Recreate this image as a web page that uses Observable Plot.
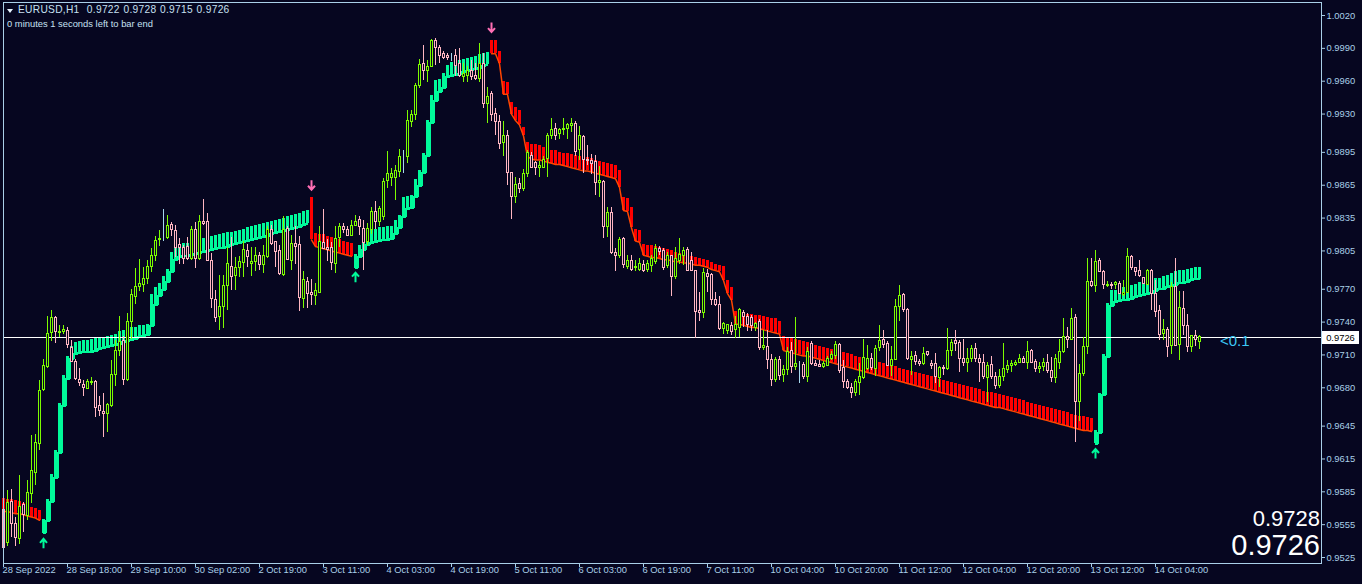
<!DOCTYPE html>
<html><head><meta charset="utf-8">
<script src="https://cdn.jsdelivr.net/npm/d3@7"></script>
<script src="https://cdn.jsdelivr.net/npm/@observablehq/plot@0.6"></script>
<style>
html,body{margin:0;padding:0;background:#060620;}
#wrap{position:relative;width:1362px;height:584px;overflow:hidden;font-family:"Liberation Sans",Arial,sans-serif;}
#wrap svg{position:absolute;left:0;top:0;}
.ov{position:absolute;white-space:pre;line-height:1;}
</style></head><body><div id="wrap"></div>
<script>
// ---- data (EURUSD H1) ----
const symbolName = "EURUSD,H1";
const headerOHLC = ["0.9722", "0.9728", "0.9715", "0.9726"];
const timerText = "0 minutes 1 seconds left to bar end";
const bidText = "0.9728";
const askText = "0.9726";
const spreadText = "<0.1";

const openP = [
0.9568,0.9538,0.9576,0.9556,0.9542,0.9573,0.9563,0.9583,0.9602,0.9629,
0.9678,0.9699,0.9730,0.9744,0.9730,0.9731,0.9732,0.9716,0.9704,0.9687,
0.9683,0.9679,0.9684,0.9685,0.9663,0.9658,0.9656,0.9663,0.9692,0.9714,
0.9723,0.9687,0.9740,0.9763,0.9772,0.9774,0.9779,0.9790,0.9800,0.9815,
0.9817,0.9817,0.9829,0.9823,0.9810,0.9808,0.9809,0.9798,0.9824,0.9798,
0.9831,0.9831,0.9796,0.9760,0.9745,0.9754,0.9773,0.9790,0.9782,0.9789,
0.9794,0.9805,0.9793,0.9795,0.9800,0.9792,0.9799,0.9824,0.9813,0.9805,
0.9783,0.9825,0.9796,0.9811,0.9810,0.9761,0.9777,0.9767,0.9764,0.9767,
0.9812,0.9808,0.9808,0.9793,0.9817,0.9827,0.9824,0.9819,0.9828,0.9833,
0.9825,0.9813,0.9824,0.9841,0.9831,0.9836,0.9869,0.9872,0.9872,0.9877,
0.9891,0.9891,0.9923,0.9929,0.9956,0.9976,0.9969,0.9973,0.9997,0.9990,
0.9985,0.9983,0.9982,0.9983,0.9976,0.9964,0.9965,0.9969,0.9965,0.9962,
0.9976,0.9939,0.9948,0.9930,0.9923,0.9904,0.9910,0.9876,0.9854,0.9866,
0.9862,0.9875,0.9892,0.9885,0.9881,0.9881,0.9889,0.9910,0.9916,0.9912,
0.9915,0.9916,0.9919,0.9921,0.9897,0.9909,0.9888,0.9887,0.9886,0.9867,
0.9868,0.9827,0.9840,0.9803,0.9800,0.9816,0.9790,0.9796,0.9789,0.9788,
0.9792,0.9788,0.9791,0.9795,0.9807,0.9805,0.9791,0.9800,0.9781,0.9796,
0.9800,0.9806,0.9796,0.9787,0.9750,0.9748,0.9784,0.9783,0.9760,0.9756,
0.9734,0.9732,0.9736,0.9733,0.9735,0.9748,0.9745,0.9744,0.9735,0.9740,
0.9716,0.9717,0.9705,0.9687,0.9705,0.9692,0.9696,0.9714,0.9699,0.9701,
0.9701,0.9690,0.9720,0.9702,0.9701,0.9699,0.9700,0.9706,0.9709,0.9719,
0.9698,0.9685,0.9680,0.9675,0.9684,0.9689,0.9697,0.9706,0.9697,0.9716,
0.9724,0.9720,0.9700,0.9705,0.9754,0.9765,0.9751,0.9705,0.9709,0.9704,
0.9702,0.9713,0.9702,0.9702,0.9689,0.9698,0.9697,0.9714,0.9723,0.9721,
0.9706,0.9703,0.9706,0.9715,0.9706,0.9703,0.9689,0.9701,0.9690,0.9682,
0.9690,0.9696,0.9700,0.9701,0.9703,0.9706,0.9703,0.9714,0.9704,0.9697,
0.9699,0.9703,0.9695,0.9689,0.9703,0.9713,0.9726,0.9724,0.9744,0.9667,
0.9693,0.9717,0.9777,0.9773,0.9796,0.9786,0.9773,0.9774,0.9774,0.9775,
0.9765,0.9767,0.9799,0.9789,0.9787,0.9780,0.9774,0.9787,0.9766,0.9750,
0.9729,0.9733,0.9718,0.9772,0.9719,0.9752,0.9736,0.9717,0.9727,0.9722];

const highP = [
0.9572,0.9586,0.9587,0.9562,0.9600,0.9575,0.9595,0.9636,0.9637,0.9687,
0.9706,0.9745,0.9751,0.9745,0.9737,0.9737,0.9735,0.9723,0.9706,0.9698,
0.9687,0.9688,0.9689,0.9687,0.9672,0.9675,0.9666,0.9705,0.9723,0.9745,
0.9727,0.9748,0.9770,0.9789,0.9797,0.9790,0.9796,0.9807,0.9818,0.9824,
0.9843,0.9837,0.9831,0.9828,0.9816,0.9810,0.9817,0.9827,0.9831,0.9837,
0.9852,0.9839,0.9803,0.9769,0.9783,0.9783,0.9808,0.9817,0.9799,0.9800,
0.9814,0.9811,0.9808,0.9808,0.9804,0.9810,0.9827,0.9828,0.9814,0.9810,
0.9836,0.9827,0.9819,0.9827,0.9818,0.9786,0.9781,0.9779,0.9775,0.9827,
0.9843,0.9815,0.9813,0.9827,0.9830,0.9830,0.9827,0.9833,0.9837,0.9836,
0.9833,0.9830,0.9845,0.9850,0.9846,0.9871,0.9896,0.9880,0.9883,0.9898,
0.9897,0.9933,0.9933,0.9958,0.9980,0.9993,0.9979,0.9998,0.9999,0.9993,
0.9987,0.9985,0.9985,0.9989,0.9990,0.9976,0.9973,0.9979,0.9976,0.9994,
0.9985,0.9954,0.9951,0.9935,0.9929,0.9923,0.9915,0.9877,0.9872,0.9871,
0.9879,0.9897,0.9895,0.9887,0.9887,0.9891,0.9912,0.9926,0.9921,0.9917,
0.9926,0.9921,0.9926,0.9923,0.9919,0.9910,0.9901,0.9893,0.9892,0.9882,
0.9869,0.9845,0.9845,0.9807,0.9817,0.9817,0.9801,0.9801,0.9796,0.9798,
0.9796,0.9796,0.9801,0.9811,0.9809,0.9807,0.9804,0.9801,0.9808,0.9816,
0.9808,0.9808,0.9804,0.9787,0.9767,0.9789,0.9788,0.9784,0.9767,0.9763,
0.9740,0.9738,0.9740,0.9745,0.9752,0.9751,0.9748,0.9746,0.9740,0.9742,
0.9732,0.9732,0.9710,0.9708,0.9709,0.9700,0.9717,0.9721,0.9744,0.9704,
0.9703,0.9717,0.9722,0.9705,0.9705,0.9704,0.9709,0.9713,0.9722,0.9720,
0.9705,0.9688,0.9684,0.9688,0.9702,0.9724,0.9719,0.9711,0.9719,0.9737,
0.9732,0.9722,0.9718,0.9761,0.9773,0.9766,0.9752,0.9713,0.9713,0.9706,
0.9717,0.9713,0.9705,0.9711,0.9699,0.9700,0.9734,0.9724,0.9732,0.9723,
0.9724,0.9716,0.9719,0.9720,0.9710,0.9710,0.9703,0.9709,0.9694,0.9697,
0.9720,0.9705,0.9705,0.9705,0.9710,0.9709,0.9722,0.9715,0.9706,0.9703,
0.9707,0.9710,0.9708,0.9710,0.9724,0.9743,0.9735,0.9752,0.9747,0.9701,
0.9726,0.9798,0.9798,0.9805,0.9798,0.9787,0.9777,0.9776,0.9777,0.9777,
0.9778,0.9807,0.9801,0.9790,0.9796,0.9781,0.9788,0.9788,0.9778,0.9755,
0.9742,0.9735,0.9776,0.9798,0.9768,0.9768,0.9747,0.9727,0.9732,0.9728];

const lowP = [
0.9530,0.9535,0.9543,0.9535,0.9537,0.9548,0.9559,0.9574,0.9591,0.9623,
0.9677,0.9698,0.9722,0.9720,0.9726,0.9729,0.9716,0.9703,0.9687,0.9681,
0.9672,0.9678,0.9682,0.9653,0.9654,0.9635,0.9639,0.9662,0.9681,0.9709,
0.9682,0.9686,0.9724,0.9756,0.9768,0.9767,0.9774,0.9785,0.9795,0.9809,
0.9814,0.9815,0.9818,0.9799,0.9793,0.9793,0.9796,0.9796,0.9789,0.9796,
0.9828,0.9795,0.9752,0.9740,0.9732,0.9734,0.9751,0.9769,0.9769,0.9781,
0.9781,0.9790,0.9782,0.9786,0.9787,0.9784,0.9798,0.9810,0.9790,0.9783,
0.9782,0.9796,0.9787,0.9793,0.9750,0.9752,0.9752,0.9755,0.9755,0.9767,
0.9807,0.9795,0.9787,0.9784,0.9808,0.9821,0.9818,0.9818,0.9827,0.9819,
0.9787,0.9810,0.9820,0.9825,0.9827,0.9833,0.9862,0.9864,0.9851,0.9872,
0.9876,0.9885,0.9918,0.9924,0.9953,0.9961,0.9959,0.9973,0.9974,0.9976,
0.9980,0.9979,0.9978,0.9964,0.9963,0.9959,0.9959,0.9961,0.9961,0.9959,
0.9935,0.9921,0.9923,0.9910,0.9898,0.9891,0.9865,0.9834,0.9848,0.9857,
0.9859,0.9872,0.9880,0.9874,0.9872,0.9880,0.9872,0.9907,0.9906,0.9907,
0.9910,0.9907,0.9913,0.9891,0.9888,0.9876,0.9883,0.9875,0.9856,0.9854,
0.9816,0.9817,0.9802,0.9786,0.9798,0.9789,0.9788,0.9786,0.9786,0.9786,
0.9785,0.9785,0.9785,0.9793,0.9801,0.9787,0.9789,0.9763,0.9779,0.9793,
0.9792,0.9786,0.9786,0.9725,0.9741,0.9743,0.9767,0.9755,0.9754,0.9732,
0.9729,0.9729,0.9728,0.9725,0.9726,0.9735,0.9731,0.9731,0.9731,0.9714,
0.9714,0.9697,0.9681,0.9685,0.9687,0.9685,0.9691,0.9693,0.9696,0.9684,
0.9688,0.9685,0.9700,0.9699,0.9699,0.9698,0.9699,0.9705,0.9706,0.9693,
0.9679,0.9678,0.9670,0.9672,0.9673,0.9688,0.9696,0.9696,0.9690,0.9713,
0.9716,0.9699,0.9690,0.9705,0.9741,0.9749,0.9705,0.9691,0.9700,0.9699,
0.9700,0.9709,0.9697,0.9684,0.9680,0.9691,0.9696,0.9709,0.9713,0.9694,
0.9699,0.9694,0.9703,0.9703,0.9685,0.9688,0.9667,0.9688,0.9678,0.9679,
0.9686,0.9693,0.9694,0.9699,0.9702,0.9702,0.9697,0.9702,0.9694,0.9693,
0.9695,0.9693,0.9685,0.9684,0.9697,0.9711,0.9716,0.9723,0.9630,0.9649,
0.9690,0.9710,0.9772,0.9767,0.9785,0.9770,0.9772,0.9770,0.9770,0.9765,
0.9763,0.9766,0.9787,0.9782,0.9781,0.9774,0.9773,0.9751,0.9744,0.9723,
0.9723,0.9708,0.9710,0.9718,0.9705,0.9728,0.9712,0.9712,0.9718,0.9715];

const closeP = [
0.9534,0.9575,0.9556,0.9543,0.9571,0.9564,0.9584,0.9604,0.9630,0.9677,
0.9700,0.9729,0.9744,0.9731,0.9731,0.9733,0.9719,0.9704,0.9688,0.9684,
0.9680,0.9685,0.9685,0.9662,0.9659,0.9656,0.9664,0.9692,0.9714,0.9722,
0.9687,0.9740,0.9765,0.9772,0.9775,0.9779,0.9790,0.9800,0.9814,0.9816,
0.9817,0.9828,0.9824,0.9808,0.9808,0.9798,0.9798,0.9824,0.9798,0.9831,
0.9830,0.9796,0.9761,0.9744,0.9754,0.9773,0.9793,0.9781,0.9789,0.9795,
0.9806,0.9799,0.9795,0.9800,0.9792,0.9800,0.9824,0.9811,0.9804,0.9784,
0.9824,0.9797,0.9811,0.9809,0.9762,0.9778,0.9766,0.9765,0.9768,0.9813,
0.9807,0.9806,0.9794,0.9816,0.9827,0.9824,0.9819,0.9828,0.9831,0.9827,
0.9812,0.9825,0.9841,0.9831,0.9843,0.9868,0.9875,0.9875,0.9878,0.9891,
0.9891,0.9924,0.9929,0.9956,0.9975,0.9969,0.9973,0.9997,0.9990,0.9983,
0.9981,0.9981,0.9982,0.9974,0.9965,0.9967,0.9969,0.9964,0.9962,0.9976,
0.9939,0.9946,0.9929,0.9923,0.9903,0.9910,0.9876,0.9854,0.9865,0.9862,
0.9875,0.9894,0.9881,0.9881,0.9883,0.9888,0.9910,0.9915,0.9910,0.9915,
0.9916,0.9920,0.9921,0.9895,0.9910,0.9888,0.9887,0.9884,0.9867,0.9869,
0.9827,0.9840,0.9803,0.9800,0.9815,0.9792,0.9796,0.9788,0.9790,0.9793,
0.9787,0.9793,0.9798,0.9807,0.9804,0.9789,0.9800,0.9781,0.9798,0.9801,
0.9805,0.9787,0.9787,0.9749,0.9748,0.9785,0.9781,0.9760,0.9756,0.9734,
0.9738,0.9737,0.9731,0.9737,0.9751,0.9745,0.9737,0.9736,0.9738,0.9716,
0.9718,0.9705,0.9687,0.9705,0.9691,0.9696,0.9713,0.9699,0.9702,0.9701,
0.9690,0.9713,0.9702,0.9700,0.9699,0.9702,0.9706,0.9710,0.9719,0.9695,
0.9685,0.9680,0.9675,0.9685,0.9690,0.9707,0.9706,0.9698,0.9715,0.9723,
0.9719,0.9700,0.9705,0.9754,0.9764,0.9751,0.9706,0.9708,0.9704,0.9702,
0.9711,0.9710,0.9700,0.9690,0.9698,0.9697,0.9714,0.9721,0.9720,0.9706,
0.9703,0.9706,0.9715,0.9706,0.9703,0.9690,0.9700,0.9690,0.9682,0.9690,
0.9697,0.9700,0.9702,0.9703,0.9706,0.9703,0.9713,0.9703,0.9697,0.9699,
0.9703,0.9695,0.9689,0.9706,0.9713,0.9726,0.9724,0.9743,0.9667,0.9693,
0.9717,0.9777,0.9773,0.9795,0.9786,0.9774,0.9774,0.9773,0.9776,0.9766,
0.9767,0.9799,0.9789,0.9786,0.9782,0.9775,0.9787,0.9766,0.9749,0.9728,
0.9733,0.9717,0.9772,0.9718,0.9753,0.9736,0.9717,0.9727,0.9724,0.9726];

// trailing-stop band (lower / upper edge per bar)
const bandLo = [
0.9567,0.9567,0.9566,0.9565,0.9565,0.9564,0.9563,0.9562,0.9561,0.9559,
0.9547,0.9558,0.9576,0.9598,0.9620,0.9663,0.9688,0.9706,0.9711,0.9712,
0.9713,0.9713,0.9713,0.9714,0.9715,0.9716,0.9717,0.9718,0.9719,0.9720,
0.9722,0.9723,0.9724,0.9725,0.9726,0.9727,0.9728,0.9736,0.9756,0.9764,
0.9769,0.9777,0.9786,0.9797,0.9799,0.9800,0.9800,0.9801,0.9802,0.9803,
0.9804,0.9805,0.9806,0.9807,0.9808,0.9808,0.9809,0.9810,0.9811,0.9812,
0.9813,0.9814,0.9815,0.9816,0.9817,0.9818,0.9819,0.9820,0.9821,0.9822,
0.9823,0.9824,0.9825,0.9826,0.9827,0.9829,0.9830,0.9815,0.9809,0.9808,
0.9807,0.9806,0.9805,0.9804,0.9803,0.9802,0.9801,0.9800,0.9789,0.9799,
0.9806,0.9810,0.9812,0.9813,0.9814,0.9815,0.9815,0.9816,0.9820,0.9826,
0.9836,0.9843,0.9844,0.9854,0.9864,0.9876,0.9892,0.9922,0.9942,0.9950,
0.9954,0.9964,0.9965,0.9966,0.9967,0.9968,0.9969,0.9970,0.9971,0.9972,
0.9974,0.9975,0.9985,0.9985,0.9976,0.9948,0.9948,0.9930,0.9924,0.9920,
0.9910,0.9891,0.9889,0.9888,0.9888,0.9887,0.9886,0.9885,0.9884,0.9884,
0.9883,0.9882,0.9881,0.9880,0.9879,0.9878,0.9878,0.9877,0.9876,0.9875,
0.9874,0.9873,0.9872,0.9871,0.9863,0.9842,0.9841,0.9826,0.9814,0.9813,
0.9801,0.9800,0.9799,0.9799,0.9798,0.9797,0.9797,0.9796,0.9795,0.9795,
0.9794,0.9794,0.9793,0.9792,0.9792,0.9791,0.9790,0.9788,0.9787,0.9786,
0.9778,0.9766,0.9760,0.9738,0.9738,0.9737,0.9736,0.9735,0.9735,0.9734,
0.9733,0.9732,0.9731,0.9730,0.9729,0.9714,0.9713,0.9712,0.9711,0.9710,
0.9709,0.9709,0.9708,0.9707,0.9706,0.9705,0.9704,0.9703,0.9702,0.9701,
0.9700,0.9699,0.9698,0.9697,0.9696,0.9695,0.9694,0.9693,0.9692,0.9691,
0.9690,0.9689,0.9688,0.9687,0.9686,0.9685,0.9684,0.9683,0.9682,0.9681,
0.9680,0.9679,0.9678,0.9677,0.9676,0.9675,0.9674,0.9673,0.9672,0.9671,
0.9670,0.9669,0.9668,0.9667,0.9666,0.9665,0.9664,0.9663,0.9662,0.9662,
0.9661,0.9660,0.9659,0.9658,0.9657,0.9656,0.9655,0.9654,0.9653,0.9652,
0.9651,0.9650,0.9649,0.9648,0.9647,0.9646,0.9645,0.9644,0.9643,0.9642,
0.9641,0.9641,0.9640,0.9629,0.9639,0.9673,0.9708,0.9755,0.9758,0.9759,
0.9760,0.9760,0.9761,0.9763,0.9764,0.9765,0.9766,0.9767,0.9768,0.9770,
0.9770,0.9772,0.9773,0.9774,0.9776,0.9776,0.9777,0.9778,0.9779,0.9779];

const bandHi = [
0.9579,0.9578,0.9578,0.9577,0.9576,0.9574,0.9573,0.9571,0.9570,0.9568,
0.9560,0.9578,0.9601,0.9623,0.9666,0.9691,0.9709,0.9718,0.9721,0.9722,
0.9723,0.9723,0.9724,0.9725,0.9726,0.9726,0.9727,0.9728,0.9729,0.9731,
0.9732,0.9733,0.9735,0.9735,0.9737,0.9737,0.9738,0.9765,0.9772,0.9775,
0.9782,0.9788,0.9804,0.9810,0.9811,0.9812,0.9812,0.9813,0.9814,0.9815,
0.9816,0.9817,0.9818,0.9819,0.9820,0.9821,0.9822,0.9822,0.9823,0.9824,
0.9825,0.9826,0.9827,0.9828,0.9829,0.9830,0.9831,0.9832,0.9833,0.9834,
0.9835,0.9836,0.9837,0.9838,0.9839,0.9841,0.9842,0.9854,0.9821,0.9820,
0.9820,0.9818,0.9817,0.9816,0.9815,0.9814,0.9813,0.9812,0.9802,0.9810,
0.9818,0.9824,0.9825,0.9825,0.9826,0.9826,0.9827,0.9827,0.9833,0.9837,
0.9854,0.9855,0.9856,0.9870,0.9878,0.9894,0.9924,0.9947,0.9961,0.9962,
0.9967,0.9974,0.9977,0.9978,0.9979,0.9980,0.9981,0.9982,0.9983,0.9984,
0.9985,0.9986,0.9997,0.9997,0.9987,0.9960,0.9959,0.9941,0.9936,0.9933,
0.9918,0.9904,0.9902,0.9902,0.9901,0.9899,0.9898,0.9897,0.9897,0.9895,
0.9894,0.9894,0.9893,0.9892,0.9891,0.9891,0.9890,0.9889,0.9888,0.9887,
0.9886,0.9885,0.9884,0.9883,0.9878,0.9854,0.9853,0.9845,0.9825,0.9824,
0.9811,0.9810,0.9810,0.9809,0.9808,0.9807,0.9806,0.9805,0.9804,0.9803,
0.9802,0.9801,0.9800,0.9799,0.9798,0.9797,0.9796,0.9794,0.9793,0.9792,
0.9791,0.9778,0.9772,0.9750,0.9749,0.9748,0.9747,0.9747,0.9746,0.9746,
0.9745,0.9744,0.9743,0.9743,0.9741,0.9727,0.9726,0.9725,0.9724,0.9723,
0.9722,0.9721,0.9720,0.9719,0.9718,0.9717,0.9716,0.9715,0.9714,0.9713,
0.9712,0.9711,0.9710,0.9709,0.9708,0.9707,0.9706,0.9705,0.9704,0.9703,
0.9702,0.9701,0.9700,0.9699,0.9698,0.9697,0.9696,0.9695,0.9694,0.9693,
0.9692,0.9691,0.9690,0.9689,0.9688,0.9687,0.9686,0.9685,0.9684,0.9683,
0.9682,0.9681,0.9680,0.9679,0.9678,0.9677,0.9676,0.9676,0.9675,0.9674,
0.9673,0.9672,0.9671,0.9670,0.9669,0.9668,0.9667,0.9666,0.9665,0.9664,
0.9663,0.9662,0.9661,0.9660,0.9659,0.9658,0.9657,0.9656,0.9655,0.9654,
0.9654,0.9653,0.9652,0.9641,0.9675,0.9710,0.9757,0.9769,0.9769,0.9771,
0.9772,0.9773,0.9773,0.9774,0.9776,0.9776,0.9778,0.9779,0.9780,0.9780,
0.9782,0.9783,0.9784,0.9786,0.9787,0.9787,0.9788,0.9789,0.9790,0.9790];

// trend runs: [direction, number of bars]
const trendRuns = [[-1, 10], [1, 67], [-1, 11], [1, 34], [-1, 151], [1, 27]];

// signal arrows
const upArrowBars = [10, 88, 273];
const upArrowPrice = [0.9538, 0.9781, 0.9620];
const downArrowBars = [77, 122];
const downArrowPrice = [0.9865, 1.0009];

// axes
const yTickValues = [1.0020, 0.9990, 0.9960, 0.9930, 0.9895, 0.9865, 0.9835, 0.9805, 0.9770, 0.9740,
  0.9710, 0.9680, 0.9645, 0.9615, 0.9585, 0.9555, 0.9525];
const xTickBars = [0, 16, 32, 48, 64, 80, 96, 112, 128, 144, 160, 176, 192, 208, 224, 240, 256, 272, 288];
const xTickLabels = ["28 Sep 2022", "28 Sep 18:00", "29 Sep 10:00", "30 Sep 02:00", "2 Oct 19:00", "3 Oct 11:00",
  "4 Oct 03:00", "4 Oct 19:00", "5 Oct 11:00", "6 Oct 03:00", "6 Oct 19:00", "7 Oct 11:00", "10 Oct 04:00",
  "10 Oct 20:00", "11 Oct 12:00", "12 Oct 04:00", "12 Oct 20:00", "13 Oct 12:00", "14 Oct 04:00"];

// ---- build ----
const BG = "#060620", AX = "#a9cfe8";
const UPC = "#7cfc00", DNC = "#ffb6c1", DOJI = "#a8d8ee";
const GREEN = "#00fa9a", RED = "#ff0000", REDLINE = "#ff4500", PINKARROW = "#ff6eb4";

const n = openP.length;
const trend = trendRuns.flatMap(([d, k]) => Array(k).fill(d));
const bars = d3.range(n).map(i => ({
  i, o: openP[i], h: highP[i], l: lowP[i], c: closeP[i],
  col: closeP[i] > openP[i] ? UPC : closeP[i] < openP[i] ? DNC : DOJI
}));
let seg = 0;
const band = d3.range(n).map(i => {
  if (i > 0 && trend[i] !== trend[i - 1]) seg++;
  return {i, lo: bandLo[i], hi: bandHi[i], t: trend[i], seg};
});
const ups = upArrowBars.map((b, k) => ({i: b, p: upArrowPrice[k]}));
const downs = downArrowBars.map((b, k) => ({i: b, p: downArrowPrice[k]}));

const arrowUp = {draw(ctx) { ctx.moveTo(0, 5); ctx.lineTo(0, -4); ctx.moveTo(-3.5, -0.5); ctx.lineTo(0, -4.5); ctx.lineTo(3.5, -0.5); }};
const arrowDown = {draw(ctx) { ctx.moveTo(0, -5); ctx.lineTo(0, 4); ctx.moveTo(-3.5, 0.5); ctx.lineTo(0, 4.5); ctx.lineTo(3.5, 0.5); }};

const W = 1362, H = 584;
const chart = Plot.plot({
  width: W, height: H,
  marginLeft: 3, marginRight: 41, marginTop: 2, marginBottom: 21,
  style: {background: BG, color: AX, fontFamily: "Liberation Sans, Arial, sans-serif", fontSize: "9.4px"},
  x: {domain: [0, 329.5], axis: "bottom", ticks: xTickBars, tickFormat: () => "", tickSize: 4, label: null},
  y: {domain: [0.951954, 1.003187], axis: "right", ticks: yTickValues, tickFormat: d3.format(".4f"), tickSize: 3, tickPadding: 2, label: null},
  color: {type: "identity"},
  marks: [
    Plot.ruleX(band, {x: "i", y1: "lo", y2: "hi", stroke: d => d.t > 0 ? GREEN : RED, strokeWidth: 3, shapeRendering: "crispEdges"}),
    Plot.line(band.filter(d => d.t > 0), {x: "i", y: "lo", z: "seg", curve: "step", stroke: GREEN, strokeWidth: 2, shapeRendering: "crispEdges"}),
    Plot.line(band.filter(d => d.t < 0), {x: "i", y: "lo", z: "seg", stroke: REDLINE, strokeWidth: 1.5}),
    Plot.ruleY([closeP[n - 1]], {stroke: "#ffffff", strokeWidth: 1, shapeRendering: "crispEdges"}),
    Plot.ruleX(bars, {x: "i", y1: "l", y2: "h", stroke: "col", strokeWidth: 1, shapeRendering: "crispEdges"}),
    Plot.rect(bars, {x1: d => d.i - 0.25, x2: d => d.i + 0.25, y1: "o", y2: "c", fill: BG, stroke: "col", strokeWidth: 1, shapeRendering: "crispEdges"}),
    Plot.dot(ups, {x: "i", y: "p", symbol: arrowUp, stroke: GREEN, fill: "none", strokeWidth: 2, r: 4}),
    Plot.dot(downs, {x: "i", y: "p", symbol: arrowDown, stroke: PINKARROW, fill: "none", strokeWidth: 2, r: 4}),
    Plot.text(xTickBars, {x: d => d, frameAnchor: "bottom", dy: 9.5, dx: -1, textAnchor: "start",
      text: (d, k) => xTickLabels[k], fill: AX, fontSize: 9.4}),
    Plot.frame({stroke: AX})
  ]
});

const wrap = document.getElementById("wrap");
wrap.appendChild(chart);

function addText(txt, css) {
  const d = document.createElement("div");
  d.className = "ov";
  d.textContent = txt;
  Object.assign(d.style, css);
  wrap.appendChild(d);
  return d;
}
// header
const tri = document.createElement("div");
Object.assign(tri.style, {position: "absolute", left: "7px", top: "9px", width: "0", height: "0",
  borderLeft: "3px solid transparent", borderRight: "3px solid transparent", borderTop: "4px solid #e8f4ff"});
wrap.appendChild(tri);
addText(symbolName + "  " + headerOHLC.join(" "), {left: "18px", top: "5px", fontSize: "10.2px", letterSpacing: "0.3px", wordSpacing: "0.5px", color: "#c6e0f2"});
addText(timerText, {left: "7px", top: "19px", fontSize: "9.4px", color: "#c6e0f2"});
// current price box on the axis
addText(askText, {left: "1322px", top: "331px", width: "37px", height: "13px", lineHeight: "13px", textAlign: "center",
  fontSize: "9.4px", color: "#000000", background: "#ffffff"});
// spread label
addText(spreadText, {left: "1220px", top: "333px", fontSize: "15px", color: "#3cc8f5"});
// big bid / ask
addText(bidText, {right: "42px", top: "508px", fontSize: "22px", color: "#ffffff"});
addText(askText, {right: "42px", top: "531px", fontSize: "29px", color: "#ffffff"});
</script></body></html>
